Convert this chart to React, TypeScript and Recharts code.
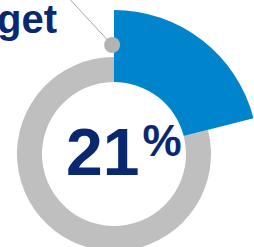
import { Cell, Customized, Pie, PieChart } from "recharts";

// Share of target reached, and the rest of the ring.
const segments = ["Achieved", "Remaining"];
const values = [21, 79];
const centerLabel = "21";
const targetLabel = "Target";

const BLUE = "#0084cc";
const GREY = "#bfbfbf";
const NAVY = "#0a2870";
const FONT = "Liberation Sans, Arial, sans-serif";

const CX = 114;
const CY = 154;
const RAD = Math.PI / 180;

const data = segments.map((name, i) => ({ name, value: values[i] }));

/** Marker dot at the start of the achieved sector, with its leader line. */
function renderMarker(props: any) {
  if (props.index !== 0) return null;
  const r = 109;
  const a = (props.startAngle + 1) * RAD;
  const x = props.cx + r * Math.cos(a);
  const y = props.cy - r * Math.sin(a);
  return (
    <g key="marker">
      <line x1={x - 48} y1={y - 52} x2={x} y2={y} stroke="#a6a6a6" strokeWidth={1} />
      <circle cx={x} cy={y} r={8} fill="#b3b3b3" />
    </g>
  );
}

function Labels() {
  return (
    <g>
      <text x={57} y={33} textAnchor="end" fontSize={40} fontWeight={700} fill={NAVY} fontFamily={FONT}>
        {targetLabel}
      </text>
      <text x={66} y={175} fontSize={66} fontWeight={700} fill={NAVY} fontFamily={FONT}>
        {centerLabel}
        <tspan fontSize={44} dx={3} dy={-19}>%</tspan>
      </text>
    </g>
  );
}

export default function App() {
  return (
    <div style={{ position: "absolute", left: 0, top: 0, width: 254, height: 247, background: "#fff" }}>
      <PieChart width={254} height={247} margin={{ top: 0, right: 0, bottom: 0, left: 0 }}>
        <Pie
          data={data}
          dataKey="value"
          cx={CX}
          cy={CY}
          innerRadius={72}
          outerRadius={97}
          startAngle={90}
          endAngle={-270}
          stroke="none"
          isAnimationActive={false}
        >
          <Cell fill="transparent" />
          <Cell fill={GREY} />
        </Pie>
        <Pie
          data={data}
          dataKey="value"
          cx={CX}
          cy={CY}
          innerRadius={72}
          outerRadius={144}
          startAngle={90}
          endAngle={-270}
          stroke="none"
          label={renderMarker}
          labelLine={false}
          isAnimationActive={false}
        >
          <Cell fill={BLUE} />
          <Cell fill="transparent" />
        </Pie>
        <Customized component={Labels} />
      </PieChart>
    </div>
  );
}
